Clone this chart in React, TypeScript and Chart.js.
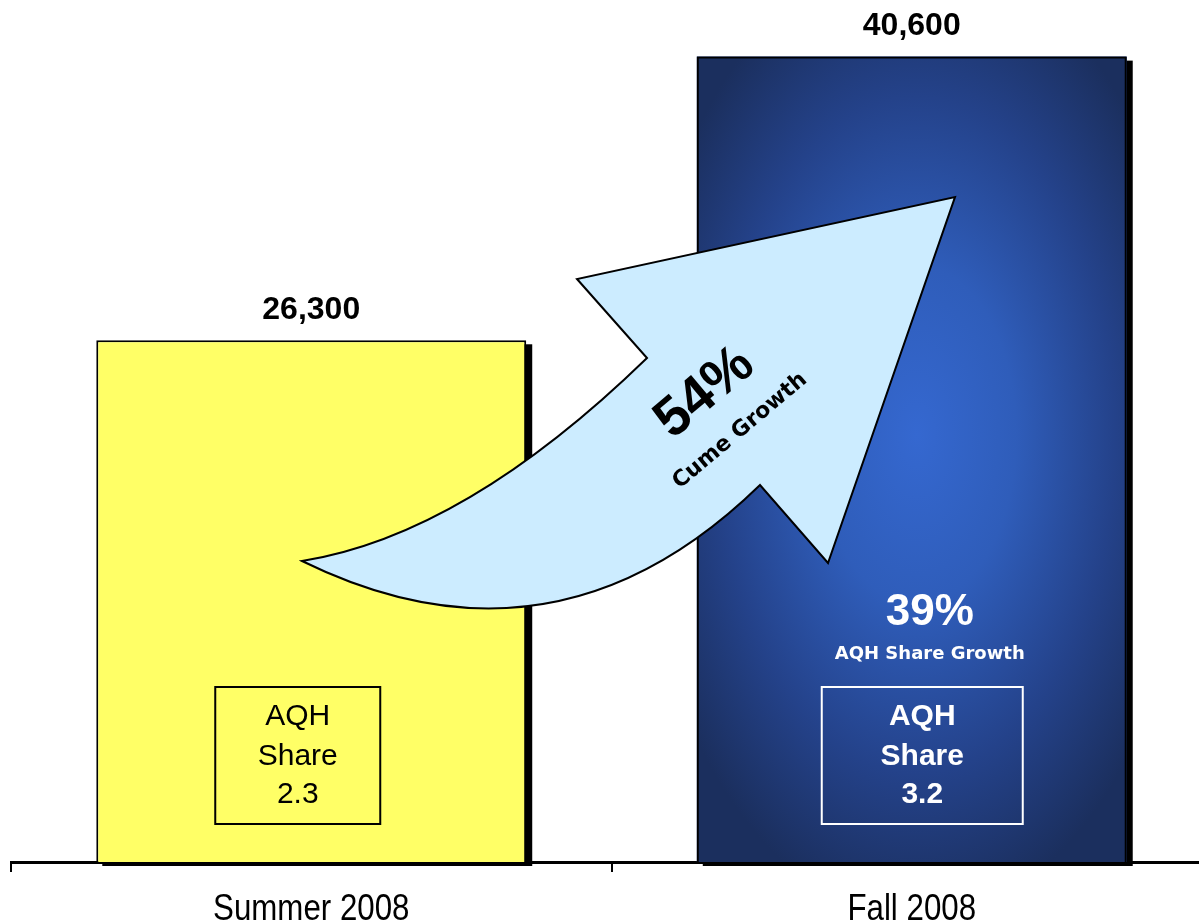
import React, { useEffect, useRef } from 'react';
import { Chart, registerables } from 'chart.js';

Chart.register(...registerables);

// ---- data ----
const categories = ['Summer 2008', 'Fall 2008'];
const cumeValues = [26300, 40600];
const valueLabels = ['26,300', '40,600'];
const aqhShareValues = ['2.3', '3.2'];
const cumeGrowthText = ['54%', 'Cume Growth'];
const aqhGrowthText = ['39%', 'AQH Share Growth'];
const yAxisMax = 43000;

const W = 1230;
const H = 924;

const SANS = "'Liberation Sans', Arial, sans-serif";
const VERDANA = "'DejaVu Sans', Verdana, sans-serif";

const barGeom = (el: any) => el.getProps(['x', 'y', 'base', 'width'], true);

const decoPlugin = {
  id: 'deco',
  beforeDatasetsDraw(chart: any) {
    const ctx = chart.ctx;
    const meta = chart.getDatasetMeta(0);
    ctx.save();
    // drop shadows
    meta.data.forEach((el: any) => {
      const b = barGeom(el);
      ctx.fillStyle = '#000';
      ctx.fillRect(b.x - b.width / 2 + 6, b.y + 4, b.width, b.base - b.y);
    });
    // blue radial fill of second bar
    const b = barGeom(meta.data[1]);
    const left = b.x - b.width / 2;
    const h = b.base - b.y;
    ctx.beginPath();
    ctx.rect(left, b.y, b.width, h);
    ctx.clip();
    ctx.fillStyle = '#1B2F5E';
    ctx.fillRect(left, b.y, b.width, h);
    const cx = b.x + 5;
    const cy = b.y + h * 0.47;
    const rx = b.width * 0.66;
    const ry = h * 0.6;
    ctx.translate(cx, cy);
    ctx.scale(1, ry / rx);
    const g = ctx.createRadialGradient(0, 0, 0, 0, 0, rx);
    g.addColorStop(0, '#3568D0');
    g.addColorStop(0.35, '#2F5DBA');
    g.addColorStop(0.7, '#24428A');
    g.addColorStop(1, '#1B2F5E');
    ctx.fillStyle = g;
    ctx.fillRect(-rx, -rx, 2 * rx, 2 * rx);
    ctx.restore();
  },
  afterDatasetsDraw(chart: any) {
    const ctx = chart.ctx;
    const meta = chart.getDatasetMeta(0);
    const bars = meta.data.map(barGeom);
    ctx.save();

    // value labels above bars
    ctx.fillStyle = '#000';
    ctx.font = `bold 32px ${SANS}`;
    ctx.textAlign = 'center';
    ctx.textBaseline = 'middle';
    bars.forEach((b: any, i: number) => {
      ctx.fillText(valueLabels[i], b.x, b.y - 30);
    });

    // AQH share boxes
    const boxes = [
      { dx: -13.5, w: 165, color: '#000', weight: 'normal', lw: 2 },
      { dx: 10.5, w: 201, color: '#FFFFFF', weight: 'bold', lw: 2 },
    ];
    bars.forEach((b: any, i: number) => {
      const bx = boxes[i];
      const cx = b.x + bx.dx;
      ctx.strokeStyle = bx.color;
      ctx.lineWidth = bx.lw;
      ctx.strokeRect(cx - bx.w / 2, b.base - 175, bx.w, 137);
      ctx.fillStyle = bx.color;
      ctx.font = `${bx.weight} 30px ${SANS}`;
      ctx.fillText('AQH', cx, b.base - 145);
      ctx.fillText('Share', cx, b.base - 105);
      ctx.fillText(aqhShareValues[i], cx, b.base - 67);
    });

    // AQH share growth text on blue bar
    const fb = bars[1];
    ctx.fillStyle = '#FFFFFF';
    ctx.font = `bold 44px ${SANS}`;
    ctx.fillText(aqhGrowthText[0], fb.x + 18, fb.base - 249);
    ctx.font = `bold 18px ${VERDANA}`;
    ctx.fillText(aqhGrowthText[1], fb.x + 18, fb.base - 208);

    // curved growth arrow
    ctx.beginPath();
    ctx.moveTo(302, 561);
    ctx.quadraticCurveTo(465, 535, 647, 358);
    ctx.lineTo(577, 279);
    ctx.lineTo(955, 197);
    ctx.lineTo(828, 563);
    ctx.lineTo(760, 485);
    ctx.quadraticCurveTo(555, 685, 302, 561);
    ctx.closePath();
    ctx.fillStyle = '#CCECFF';
    ctx.fill();
    ctx.lineJoin = 'miter';
    ctx.strokeStyle = '#000';
    ctx.lineWidth = 2;
    ctx.stroke();

    // arrow text
    ctx.fillStyle = '#000';
    ctx.save();
    ctx.translate(705, 393);
    ctx.rotate((-40 * Math.PI) / 180);
    ctx.font = `bold 55px ${SANS}`;
    ctx.fillText(cumeGrowthText[0], 0, 0);
    ctx.restore();
    ctx.save();
    ctx.translate(740, 431);
    ctx.rotate((-40 * Math.PI) / 180);
    ctx.font = `bold 22px ${VERDANA}`;
    ctx.fillText(cumeGrowthText[1], 0, 0);
    ctx.restore();

    ctx.restore();
  },
  afterDraw(chart: any) {
    // category labels, drawn slightly condensed like the original
    const ctx = chart.ctx;
    const xs = chart.scales.x;
    const labels = xs.getLabels();
    ctx.save();
    ctx.fillStyle = '#000';
    ctx.font = `37px ${SANS}`;
    ctx.textAlign = 'center';
    ctx.textBaseline = 'middle';
    labels.forEach((lab: string, i: number) => {
      const px = xs.getPixelForValue(i);
      ctx.save();
      ctx.translate(px, xs.bottom + 38);
      ctx.scale(0.845, 1);
      ctx.fillText(lab, 0, 0);
      ctx.restore();
    });
    ctx.restore();
  },
};

export default function App() {
  const ref = useRef<HTMLCanvasElement | null>(null);

  useEffect(() => {
    if (!ref.current) return;
    const chart = new Chart(ref.current, {
      type: 'bar',
      data: {
        labels: categories,
        datasets: [
          {
            data: cumeValues,
            backgroundColor: ['#FFFF66', 'rgba(0,0,0,0)'],
            borderColor: '#000000',
            borderWidth: 2,
            borderSkipped: 'bottom',
            barPercentage: 0.716,
            categoryPercentage: 1,
          },
        ],
      },
      options: {
        responsive: false,
        devicePixelRatio: 1,
        animation: false,
        layout: { padding: { left: 11, right: W - 1212, top: 9, bottom: 52 } },
        plugins: { legend: { display: false }, tooltip: { enabled: false } },
        scales: {
          x: {
            offset: true,
            grid: {
              display: true,
              offset: true,
              drawOnChartArea: false,
              drawTicks: true,
              tickLength: 10,
              color: '#000',
              lineWidth: 2,
            },
            border: { display: true, color: '#000', width: 3 },
            ticks: { display: false },
          },
          y: {
            display: false,
            min: 0,
            max: yAxisMax,
          },
        },
      },
      plugins: [decoPlugin],
    });
    return () => chart.destroy();
  }, []);

  return (
    <div
      style={{
        position: 'fixed',
        left: 0,
        top: 0,
        width: 1199,
        height: 924,
        overflow: 'hidden',
        background: '#fff',
      }}
    >
      <canvas ref={ref} width={W} height={H} style={{ display: 'block', width: W, height: H }} />
    </div>
  );
}
